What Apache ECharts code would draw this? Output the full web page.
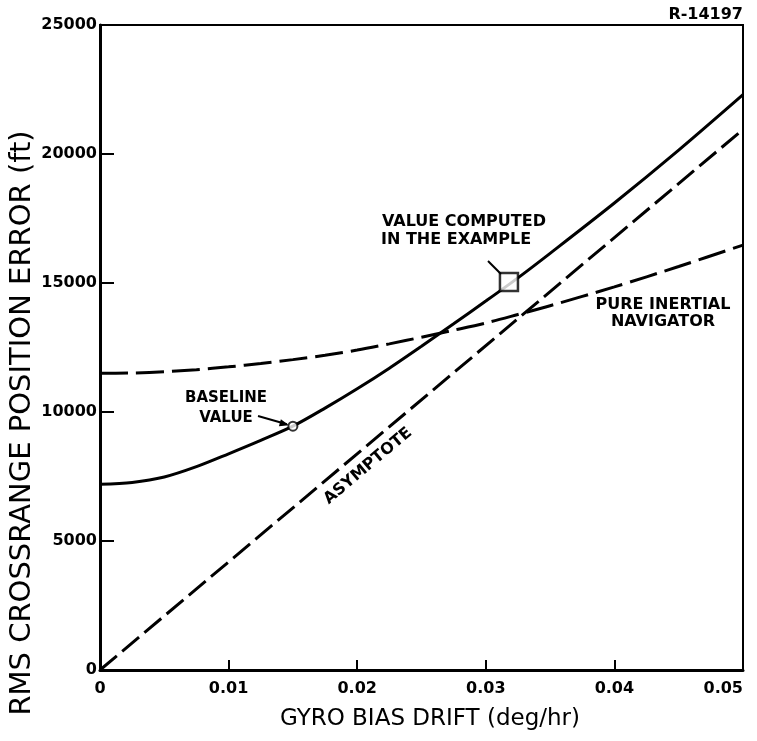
<!DOCTYPE html>
<html><head><meta charset="utf-8">
<script src="https://cdn.jsdelivr.net/npm/echarts@6/dist/echarts.min.js"></script>
<style>html,body{margin:0;padding:0;background:#fff;overflow:hidden}#c{width:757px;height:741px}</style>
</head><body><div id="c"></div>
<script>
// ---- data ----
const xTickLabels = ['0', '0.01', '0.02', '0.03', '0.04', '0.05'];
const yTickLabels = ['0', '5000', '10000', '15000', '20000', '25000'];

const driftX       = [0, 0.0025, 0.005, 0.0075, 0.01, 0.0125, 0.015, 0.0175, 0.02, 0.0225, 0.025, 0.0275, 0.03, 0.0325, 0.035, 0.04, 0.045, 0.05];
const systemErr    = [7200, 7270, 7480, 7880, 8380, 8900, 9450, 10150, 10900, 11700, 12550, 13420, 14300, 15200, 16150, 18100, 20150, 22300];
const inertialErr  = [11500, 11510, 11560, 11640, 11750, 11880, 12030, 12200, 12400, 12640, 12900, 13170, 13450, 13780, 14120, 14850, 15640, 16470];
const asymptoteX   = [0, 0.05];
const asymptoteErr = [0, 20950];
const baselinePt   = [0.015, 9450];
const examplePt    = [0.0318, 15040];

const pair = (xs, ys) => xs.map((x, i) => [x, ys[i]]);
const F = 'DejaVu Sans';

const chart = echarts.init(document.getElementById('c'));
chart.setOption({
  animation: false,
  backgroundColor: '#fff',
  grid: {left: 100, right: 14, top: 25, bottom: 71, containLabel: false, outerBoundsMode: 'none',
         show: true, borderColor: '#000', borderWidth: 2, backgroundColor: 'transparent'},
  xAxis: {
    type: 'value', min: 0, max: 0.05, interval: 0.01,
    axisLine: {lineStyle: {color: '#000', width: 3}},
    axisTick: {inside: true, length: 10, lineStyle: {color: '#000', width: 2}},
    axisLabel: {fontFamily: F, fontSize: 16, fontWeight: 'bold', color: '#000', margin: 11, hideOverlap: false,
      alignMaxLabel: 'right',
      formatter: v => { const i = Math.round(v / 0.01); return xTickLabels[i] ?? ''; }},
    splitLine: {show: false}
  },
  yAxis: {
    type: 'value', min: 0, max: 25000, interval: 5000,
    axisLine: {lineStyle: {color: '#000', width: 3}},
    axisTick: {inside: true, length: 14, lineStyle: {color: '#000', width: 2}},
    axisLabel: {fontFamily: F, fontSize: 16, fontWeight: 'bold', color: '#000', margin: 3,
      formatter: v => yTickLabels[Math.round(v / 5000)] ?? ''},
    splitLine: {show: false}
  },
  series: [
    {type: 'line', data: pair(driftX, systemErr), smooth: 0.3, symbol: 'none',
     lineStyle: {color: '#000', width: 3}},
    {type: 'line', data: pair(driftX, inertialErr), smooth: 0.3, symbol: 'none',
     lineStyle: {color: '#000', width: 3, type: [28, 8]}},
    {type: 'line', data: pair(asymptoteX, asymptoteErr), symbol: 'none',
     lineStyle: {color: '#000', width: 3, type: [22, 7]}},
    {type: 'scatter', data: [baselinePt], symbol: 'circle', symbolSize: 9,
     itemStyle: {color: '#fff', borderColor: '#000', borderWidth: 2}, z: 5},
    {type: 'scatter', data: [examplePt], symbol: 'rect', symbolSize: 18,
     itemStyle: {color: '#fff', borderColor: '#000', borderWidth: 2.5}, z: 5}
  ]
});

// annotations anchored to data points via the chart's own scales
const bp = chart.convertToPixel({gridIndex: 0}, baselinePt);
const ep = chart.convertToPixel({gridIndex: 0}, examplePt);
const txt = (x, y, s, size, align, bold, extra) => Object.assign({type: 'text', x, y,
  style: {text: s, fontFamily: F, fontSize: size, fontWeight: bold ? 'bold' : 'normal', fill: '#000',
          textAlign: align || 'left', textVerticalAlign: 'middle'}, z: 10}, extra || {});
chart.setOption({graphic: [
  txt(743, 15, 'R-14197', 16, 'right', true),
  txt(382, 222, 'VALUE COMPUTED', 16, 'left', true),
  txt(381, 240, 'IN THE EXAMPLE', 16, 'left', true),
  {type: 'line', shape: {x1: 488, y1: 261, x2: ep[0] - 8, y2: ep[1] - 8}, style: {stroke: '#000', lineWidth: 2}, z: 10},
  txt(663, 305, 'PURE INERTIAL', 16, 'center', true),
  txt(663, 322, 'NAVIGATOR', 16, 'center', true),
  txt(226, 398, 'BASELINE', 15, 'center', true),
  txt(226, 418, 'VALUE', 15, 'center', true),
  {type: 'line', shape: {x1: 258, y1: 416, x2: bp[0] - 6, y2: bp[1] - 2}, style: {stroke: '#000', lineWidth: 2}, z: 10},
  {type: 'polygon', shape: {points: [[bp[0] - 4, bp[1] - 1], [bp[0] - 12, bp[1] - 7], [bp[0] - 14, bp[1]]]}, style: {fill: '#000'}, z: 10},
  txt(368, 466, 'ASYMPTOTE', 16, 'center', true, {rotation: 40 * Math.PI / 180}),
  txt(430, 719, 'GYRO BIAS DRIFT (deg/hr)', 23, 'center', false),
  txt(22, 423, 'RMS CROSSRANGE POSITION ERROR (ft)', 29, 'center', false, {rotation: Math.PI / 2})
]});
</script></body></html>
